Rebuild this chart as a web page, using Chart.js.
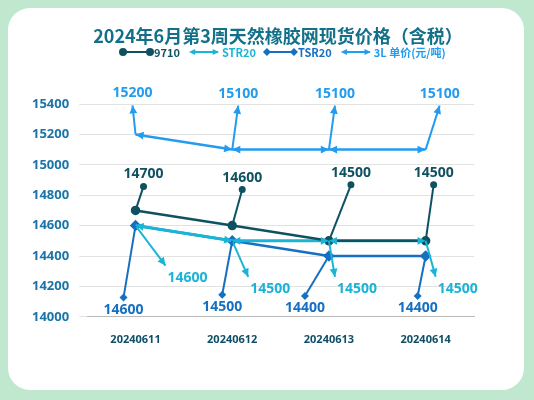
<!DOCTYPE html>
<html><head><meta charset="utf-8">
<script src="https://cdn.jsdelivr.net/npm/chart.js@4"></script>
<style>
html,body{margin:0;padding:0;background:#bfe8cf;}
#wrap{position:absolute;left:8px;top:8px;width:516px;height:382px;background:#fff;border-radius:22px;}
canvas{position:absolute;left:0;top:0;}
</style></head><body>
<div id="wrap"><canvas id="c" width="516" height="382"></canvas></div>
<script>
const categories=['20240611','20240612','20240613','20240614'];
const s9710=[14700,14600,14500,14500];
const sSTR20=[14600,14500,14500,14500];
const sTSR20=[14600,14500,14400,14400];
const s3L=[15200,15100,15100,15100];
const yTicks=[14000,14200,14400,14600,14800,15000,15200,15400];
const names=['9710','STR20','TSR20','3L 单价(元/吨)'];
const colors=['#0e5262','#1ab4d6','#1670c2','#239cf0'];
const leaders=[
 [[8,-24],[10,-36],[22,-56],[8,-56]],
 [[30,40],[16,36],[6,36],[10,36]],
 [[-12,72],[-10,54],[-24,40],[-8,40]],
 [[-3,-29],[6,-44],[6,-44],[14,-44]]
];
const labelMode=['dot','arrow','diamond','arrow'];
function arrowHead(ctx,x1,y1,x2,y2,col,s){const a=Math.atan2(y2-y1,x2-x1);ctx.fillStyle=col;ctx.beginPath();ctx.moveTo(x2,y2);ctx.lineTo(x2-s*Math.cos(a-0.45),y2-s*Math.sin(a-0.45));ctx.lineTo(x2-s*Math.cos(a+0.45),y2-s*Math.sin(a+0.45));ctx.closePath();ctx.fill();}
const plug={id:'p',afterDatasetsDraw(ch){
 const ctx=ch.ctx;const x=ch.scales.x,y=ch.scales.y;
 ch.data.datasets.forEach((ds,di)=>{
  const col=colors[di];
  if(labelMode[di]==='arrow'){for(let i=0;i<ds.data.length-1;i++){const x1=x.getPixelForValue(i),y1=y.getPixelForValue(ds.data[i]),x2=x.getPixelForValue(i+1),y2=y.getPixelForValue(ds.data[i+1]);arrowHead(ctx,x1,y1,x2,y2,col,9);arrowHead(ctx,x2,y2,x1,y1,col,9);}}
  ds.data.forEach((v,i)=>{const px=x.getPixelForValue(i),py=y.getPixelForValue(v);const [dx,dy]=leaders[di][i];const ex=px+dx,ey=py+dy;
   ctx.strokeStyle=col;ctx.lineWidth=2;ctx.beginPath();ctx.moveTo(px,py);ctx.lineTo(ex,ey);ctx.stroke();
   if(labelMode[di]==='dot'){ctx.fillStyle=col;ctx.beginPath();ctx.arc(ex,ey,3.5,0,7);ctx.fill();}
   else if(labelMode[di]==='diamond'){ctx.fillStyle=col;ctx.beginPath();ctx.moveTo(ex,ey-4);ctx.lineTo(ex+4,ey);ctx.lineTo(ex,ey+4);ctx.lineTo(ex-4,ey);ctx.fill();}
   else arrowHead(ctx,px,py,ex,ey,col,9);
   ctx.fillStyle=col;ctx.font='bold 14px "Open Sans"';ctx.textAlign='center';ctx.textBaseline='middle';
   const ly=dy<0?ey-12:ey+12;const lx=labelMode[di]==='arrow'&&dy>0?ex+22:ex;ctx.fillText(String(v),lx,ly);});
 });
 ctx.textAlign='center';ctx.textBaseline='middle';ctx.fillStyle='#127088';ctx.font='bold 18px "Noto Sans CJK SC"';ctx.fillText('2024年6月第3周天然橡胶网现货价格（含税）',270,28);
 let lx=112;const ly=44;ctx.font='bold 11px "Noto Sans CJK SC"';ctx.textAlign='left';
 names.forEach((n,i)=>{const c=colors[i];ctx.strokeStyle=c;ctx.fillStyle=c;ctx.lineWidth=2;ctx.beginPath();ctx.moveTo(lx+3,ly);ctx.lineTo(lx+30,ly);ctx.stroke();
  if(i===0){ctx.beginPath();ctx.arc(lx+3,ly,4,0,7);ctx.arc(lx+30,ly,4,0,7);ctx.fill();}
  else if(i===2){[lx+3,lx+30].forEach(q=>{ctx.beginPath();ctx.moveTo(q,ly-4);ctx.lineTo(q+4,ly);ctx.lineTo(q,ly+4);ctx.lineTo(q-4,ly);ctx.fill();});}
  else{arrowHead(ctx,lx+10,ly,lx+1,ly,c,7);arrowHead(ctx,lx+22,ly,lx+31,ly,c,7);}
  ctx.fillText(n,lx+34,ly+1);lx+=34+ctx.measureText(n).width+8;});
}};
new Chart(document.getElementById('c'),{type:'line',
 data:{labels:categories,datasets:[
  {data:s9710,borderColor:colors[0],backgroundColor:colors[0],borderWidth:2.5,pointRadius:3.5,pointStyle:'circle'},
  {data:sSTR20,borderColor:colors[1],backgroundColor:colors[1],borderWidth:3,pointRadius:0},
  {data:sTSR20,borderColor:colors[2],backgroundColor:colors[2],borderWidth:2.5,pointRadius:4,pointStyle:'rectRot'},
  {data:s3L,borderColor:colors[3],backgroundColor:colors[3],borderWidth:2.5,pointRadius:0}]},
 options:{responsive:false,animation:false,events:[],
  layout:{padding:{top:96,left:14,right:50,bottom:36}},
  plugins:{legend:{display:false},tooltip:{enabled:false}},
  scales:{x:{offset:true,grid:{display:false},border:{color:'#bbb'},ticks:{color:'#0e4e66',padding:8,font:{weight:'bold',size:11,family:'"Open Sans"'}}},
   y:{min:14000,max:15400,afterBuildTicks(a){a.ticks=yTicks.map(v=>({value:v}));},grid:{color:'#e2e2e2'},border:{display:false},ticks:{color:'#1a74a8',callback:v=>String(v),font:{weight:'bold',size:13,family:'"Open Sans"'},padding:10}}}},
 plugins:[plug]});
</script></body></html>
